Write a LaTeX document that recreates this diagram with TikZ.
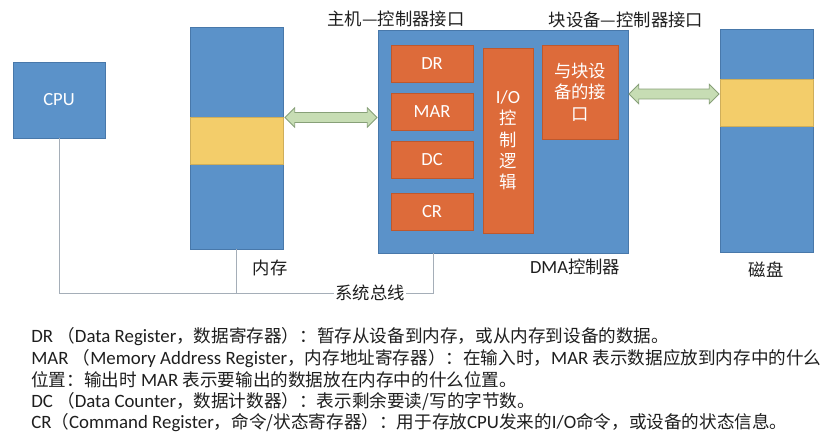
\documentclass[tikz,border=0pt]{standalone}
\usepackage{fontspec}
\setmainfont{Noto Sans CJK SC}
\newfontfamily\latf[Scale=1.07]{Carlito}
\newcommand{\enf}[1]{{\latf #1}}
\usetikzlibrary{positioning,calc,shapes.arrows}
\definecolor{blkblue}{RGB}{91,146,201}
\definecolor{blkedge}{RGB}{72,120,170}
\definecolor{regorange}{RGB}{221,107,58}
\definecolor{regedge}{RGB}{190,88,45}
\definecolor{bandyellow}{RGB}{243,205,106}
\definecolor{linkfill}{RGB}{199,221,180}
\definecolor{linkedge}{RGB}{135,160,120}
\definecolor{busgray}{RGB}{165,174,184}
\definecolor{txt}{RGB}{30,30,30}
\tikzset{
  blk/.style={rectangle,fill=blkblue,draw=blkedge,line width=0.4pt,
    inner sep=0pt,text=white,font=\fontsize{13}{16}\selectfont\latf},
  reg/.style={rectangle,fill=regorange,draw=regedge,line width=0.4pt,
    inner sep=0pt,text=white,minimum width=61.5pt,minimum height=27.75pt,
    font=\fontsize{13}{16}\selectfont\latf},
  band/.style={rectangle,fill=bandyellow,draw=bandyellow!85!black,
    line width=0.4pt,inner sep=0pt,minimum width=69.75pt,minimum height=35.25pt},
  link/.style={double arrow,fill=linkfill,draw=linkedge,line width=0.6pt,
    inner xsep=0pt,inner ysep=3.4pt,double arrow head extend=3.6pt,
    double arrow head indent=0pt},
  bus/.style={draw=busgray,line width=0.6pt},
  lbl/.style={text=txt,inner sep=1pt,font=\fontsize{13}{16}\selectfont},
  desc/.style={text=txt,inner sep=0pt,anchor=west,font=\fontsize{13.2}{16}\selectfont},
}

\begin{document}
\begin{tikzpicture}[x=0.75pt,y=-0.75pt]
  \useasboundingbox (0,0) rectangle (826,446);
  \node[blk,minimum width=69pt,minimum height=57pt] (cpu) at (59,100) {CPU};
  \node[blk,minimum width=69.75pt,minimum height=166.5pt] (mem) at (236.5,138) {};
  \node[band] (memband) at (236.5,140.5) {};
  \node[blk,minimum width=187.5pt,minimum height=167.25pt] (dma) at (503,141.5) {};
  \node[reg] (dr) at (432,63.5) {DR};
  \node[reg] (mar) at (432,111.5) {MAR};
  \node[reg] (dc) at (432,160) {DC};
  \node[reg] (cr) at (432,212) {CR};
  \node[reg,minimum width=37.5pt,minimum height=138.75pt,align=center]
    (iologic) at (508,140.5) {I/O\\{\rmfamily 控}\\{\rmfamily 制}\\{\rmfamily 逻}\\{\rmfamily 辑}};
  \node[reg,minimum width=57pt,minimum height=70.5pt,align=center,
    font=\fontsize{13}{16}\selectfont] (devif) at (580,92) {与块设\\备的接\\口};
  \node[blk,minimum width=69.75pt,minimum height=167.25pt] (disk) at (766.5,140.5) {};
  \node[band] (diskband) at (766.5,102.5) {};
  \node[link,minimum height=69pt] (hostlink) at (331,117.5) {};
  \node[link,minimum height=67.5pt] (devlink) at (674,94) {};
  \node[lbl] (hosttitle) at (396,19) {主机—控制器接口};
  \node[lbl] (devtitle) at (626,20) {块设备—控制器接口};
  \node[lbl] (memlbl) at (270,268) {内存};
  \node[lbl] (dmalbl) at (575,267) {\enf{DMA}控制器};
  \node[lbl] (disklbl) at (766,270) {磁盘};
  \coordinate (busR) at (433,293);
  \draw[bus] (cpu.south) |- (busR) -- (busR |- dma.south);
  \draw[bus] (mem.south) -- (mem.south |- busR);
  \node[lbl,fill=white] (buslbl) at (370,293) {系统总线};
  \node[desc] (dscdr) at (31,337)
    {\enf{DR }（\enf{Data Register}，数据寄存器）：暂存从设备到内存，或从内存到设备的数据。};
  \node[desc] (dscmar) at (31,359)
    {\enf{MAR }（\enf{Memory Address Register}，内存地址寄存器）：在输入时，\enf{MAR }表示数据应放到内存中的什么};
  \node[desc] (dscmarb) at (31,380)
    {位置：输出时\enf{ MAR }表示要输出的数据放在内存中的什么位置。};
  \node[desc] (dscdc) at (31,402)
    {\enf{DC }（\enf{Data Counter}，数据计数器）：表示剩余要读/写的字节数。};
  \node[desc] (dsccr) at (31,423)
    {\enf{CR}（\enf{Command Register}，命令/状态寄存器）：用于存放\enf{CPU}发来的\enf{I/O}命令，或设备的状态信息。};
\end{tikzpicture}
\end{document}
